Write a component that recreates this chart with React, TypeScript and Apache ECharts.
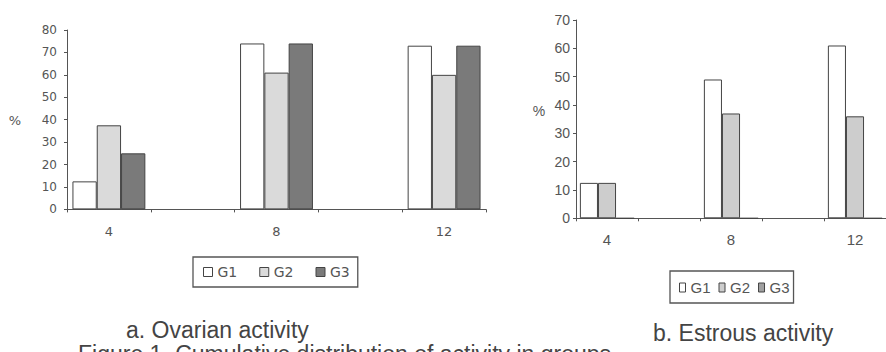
import React, { useEffect, useRef } from "react";
import * as echarts from "echarts";

const categories = ["4", "", "8", "", "12"];
const seriesNames = ["G1", "G2", "G3"];

// a. Ovarian activity (%)
const ovarianG1 = [12.5, null, 74, null, 73];
const ovarianG2 = [37.5, null, 61, null, 60];
const ovarianG3 = [25, null, 74, null, 73];

// b. Estrous activity (%)
const estrousG1 = [12.5, null, 49, null, 61];
const estrousG2 = [12.5, null, 37, null, 36];
const estrousG3 = [0, null, 0, null, 0];

const leftTicksMax = 80;
const rightTicksMax = 70;

const captionA = "a. Ovarian activity";
const captionB = "b. Estrous activity";
const figureCaption = "Figure 1. Cumulative distribution of activity in groups";

const leftColors = ["#ffffff", "#dadada", "#7a7a7a"];
const rightColors = ["#ffffff", "#cdcdcd", "#a0a0a0"];

export default function App() {
  const ref = useRef<HTMLDivElement>(null);
  useEffect(() => {
    if (!ref.current) return;
    const chart = echarts.init(ref.current, null, { renderer: "svg" });
    const axisColor = "#555";
    const textColor = "#555";
    const leftData = [ovarianG1, ovarianG2, ovarianG3];
    const rightData = [estrousG1, estrousG2, estrousG3];

    const mkSeries = (data: any[], idx: number, colors: string[], i: number, gap: string) => ({
      type: "bar",
      name: seriesNames[i],
      xAxisIndex: idx,
      yAxisIndex: idx,
      data,
      barGap: "0%",
      barCategoryGap: gap,
      itemStyle: { color: colors[i], borderColor: "#444", borderWidth: 1 },
    });

    const xAxisBase = (gridIndex: number, fontFamily: string, fontSize: number, margin: number) => ({
      type: "category",
      gridIndex,
      data: categories,
      axisLine: { lineStyle: { color: axisColor, width: 1 } },
      axisTick: { show: true, interval: 0, length: 3, lineStyle: { color: axisColor } },
      axisLabel: { interval: 0, color: textColor, fontFamily, fontSize, margin },
      splitLine: { show: false },
    });

    const yAxisBase = (gridIndex: number, max: number, fontFamily: string, fontSize: number, margin: number) => ({
      type: "value",
      gridIndex,
      min: 0,
      max,
      interval: 10,
      axisLine: { show: true, lineStyle: { color: axisColor, width: 1 } },
      axisTick: { show: true, length: 3, lineStyle: { color: axisColor } },
      axisLabel: { color: textColor, fontFamily, fontSize, margin },
      splitLine: { show: false },
    });

    chart.setOption({
      animation: false,
      backgroundColor: "#ffffff",
      grid: [
        { left: 67, top: 30, width: 419, height: 179.4, containLabel: false },
        { left: 576, top: 20, width: 320, height: 198.3, containLabel: false },
      ],
      xAxis: [
        xAxisBase(0, "DejaVu Sans", 13, 16),
        xAxisBase(1, "Liberation Sans", 15, 14),
      ],
      yAxis: [
        yAxisBase(0, leftTicksMax, "DejaVu Sans", 12, 10),
        yAxisBase(1, rightTicksMax, "Liberation Sans", 14, 6),
      ],
      legend: [
        {
          data: seriesNames.map((n) => ({ name: n })),
          left: 193,
          top: 257,
          orient: "horizontal",
          icon: "rect",
          itemWidth: 9,
          itemHeight: 9,
          itemGap: 22,
          padding: [8, 8, 8, 10],
          borderColor: "#555",
          borderWidth: 1.3,
          selectedMode: false,
          textStyle: { color: textColor, fontFamily: "DejaVu Sans", fontSize: 14 },
          itemStyle: { borderColor: "#444", borderWidth: 1 },
          formatter: (n: string) => n,
        },
        {
          data: seriesNames.map((n) => ({ name: n + " " })),
          left: 670,
          top: 271,
          orient: "horizontal",
          icon: "rect",
          itemWidth: 6,
          itemHeight: 9,
          itemGap: 8,
          padding: [9, 4, 8, 9],
          borderColor: "#555",
          borderWidth: 1.3,
          selectedMode: false,
          textStyle: { color: textColor, fontFamily: "Liberation Sans", fontSize: 15 },
          itemStyle: { borderColor: "#444", borderWidth: 1 },
          formatter: (n: string) => n.trim(),
        },
      ],
      series: [
        ...leftData.map((d, i) => mkSeries(d, 0, leftColors, i, "13%")),
        ...rightData.map((d, i) => ({ ...mkSeries(d, 1, rightColors, i, "12.5%"), name: seriesNames[i] + " " })),
      ],
      graphic: [
        {
          type: "text",
          x: 15,
          y: 120,
          style: { text: "%", fill: textColor, font: "13px 'DejaVu Sans'", align: "center", verticalAlign: "middle" },
        },
        {
          type: "text",
          x: 539,
          y: 111,
          style: { text: "%", fill: textColor, font: "14px 'Liberation Sans'", align: "center", verticalAlign: "middle" },
        },
        {
          type: "text",
          x: 126,
          y: 330,
          style: { text: captionA, fill: "#444", font: "23px 'Liberation Sans'", align: "left", verticalAlign: "middle" },
        },
        {
          type: "text",
          x: 653,
          y: 333,
          style: { text: captionB, fill: "#444", font: "23px 'Liberation Sans'", align: "left", verticalAlign: "middle" },
        },
        {
          type: "text",
          x: 78,
          y: 354,
          style: { text: figureCaption, fill: "#444", font: "23px 'Liberation Sans'", align: "left", verticalAlign: "middle" },
        },
      ],
    });
    return () => chart.dispose();
  }, []);

  return (
    <div
      ref={ref}
      style={{ position: "absolute", left: 0, top: 0, width: 886, height: 352, overflow: "hidden", background: "#fff" }}
    />
  );
}
